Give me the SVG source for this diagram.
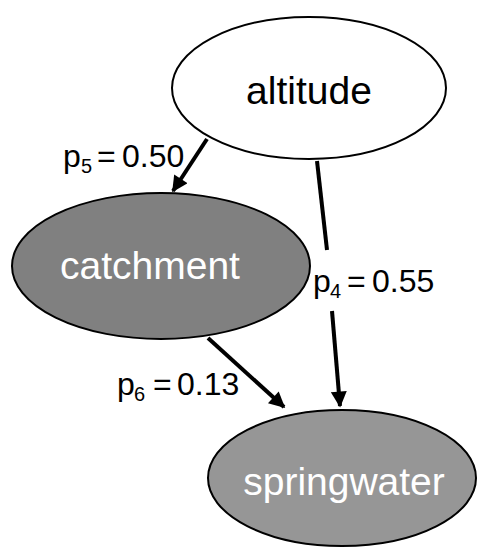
<svg xmlns="http://www.w3.org/2000/svg" width="478" height="547" viewBox="0 0 478 547">
<style>
.n{stroke:#000;stroke-width:2}
.nt{font-family:"Liberation Sans",Arial,sans-serif;font-size:39px;text-anchor:middle}
.lb{font-family:"Liberation Sans",Arial,sans-serif;font-size:32px;fill:#000}
.sb{font-size:20px}
.e{stroke:#000;stroke-width:4;fill:none}
</style>
<defs>
<marker id="ah" viewBox="0 0 10 10" refX="9" refY="5" markerWidth="4.5" markerHeight="4" orient="auto" markerUnits="strokeWidth">
<path d="M0,0 L10,5 L0,10 z" fill="#000"/>
</marker>
</defs>
<rect width="478" height="547" fill="#fff"/>
<g id="altitude">
<ellipse class="n" cx="309" cy="88" rx="137" ry="71" fill="#fff"/>
<text class="nt" x="309" y="104" fill="#000">altitude</text>
</g>
<g id="catchment">
<ellipse class="n" cx="161" cy="266" rx="149" ry="73" fill="#808080"/>
<text class="nt" x="150" y="279" fill="#fff">catchment</text>
</g>
<g id="springwater">
<ellipse class="n" cx="342" cy="478" rx="134" ry="68" fill="#969696"/>
<text class="nt" x="344" y="495" fill="#fff">springwater</text>
</g>
<g id="connectors">
<line class="e" x1="207" y1="139" x2="173" y2="191" marker-end="url(#ah)"/>
<line class="e" x1="317" y1="161" x2="327" y2="250"/>
<line class="e" x1="332" y1="311" x2="340" y2="406" marker-end="url(#ah)"/>
<line class="e" x1="208" y1="338" x2="284" y2="407" marker-end="url(#ah)"/>
</g>
<g id="labels">
<text class="lb" y="167"><tspan x="63">p</tspan><tspan class="sb" x="81" y="173">5</tspan><tspan x="97" y="167">=</tspan><tspan x="122" y="167">0.50</tspan></text>
<text class="lb" y="292"><tspan x="313">p</tspan><tspan class="sb" x="330" y="298">4</tspan><tspan x="347" y="292">=</tspan><tspan x="372" y="292">0.55</tspan></text>
<text class="lb" y="395"><tspan x="117">p</tspan><tspan class="sb" x="134" y="401">6</tspan><tspan x="153" y="395">=</tspan><tspan x="177" y="395">0.13</tspan></text>
</g>
</svg>
